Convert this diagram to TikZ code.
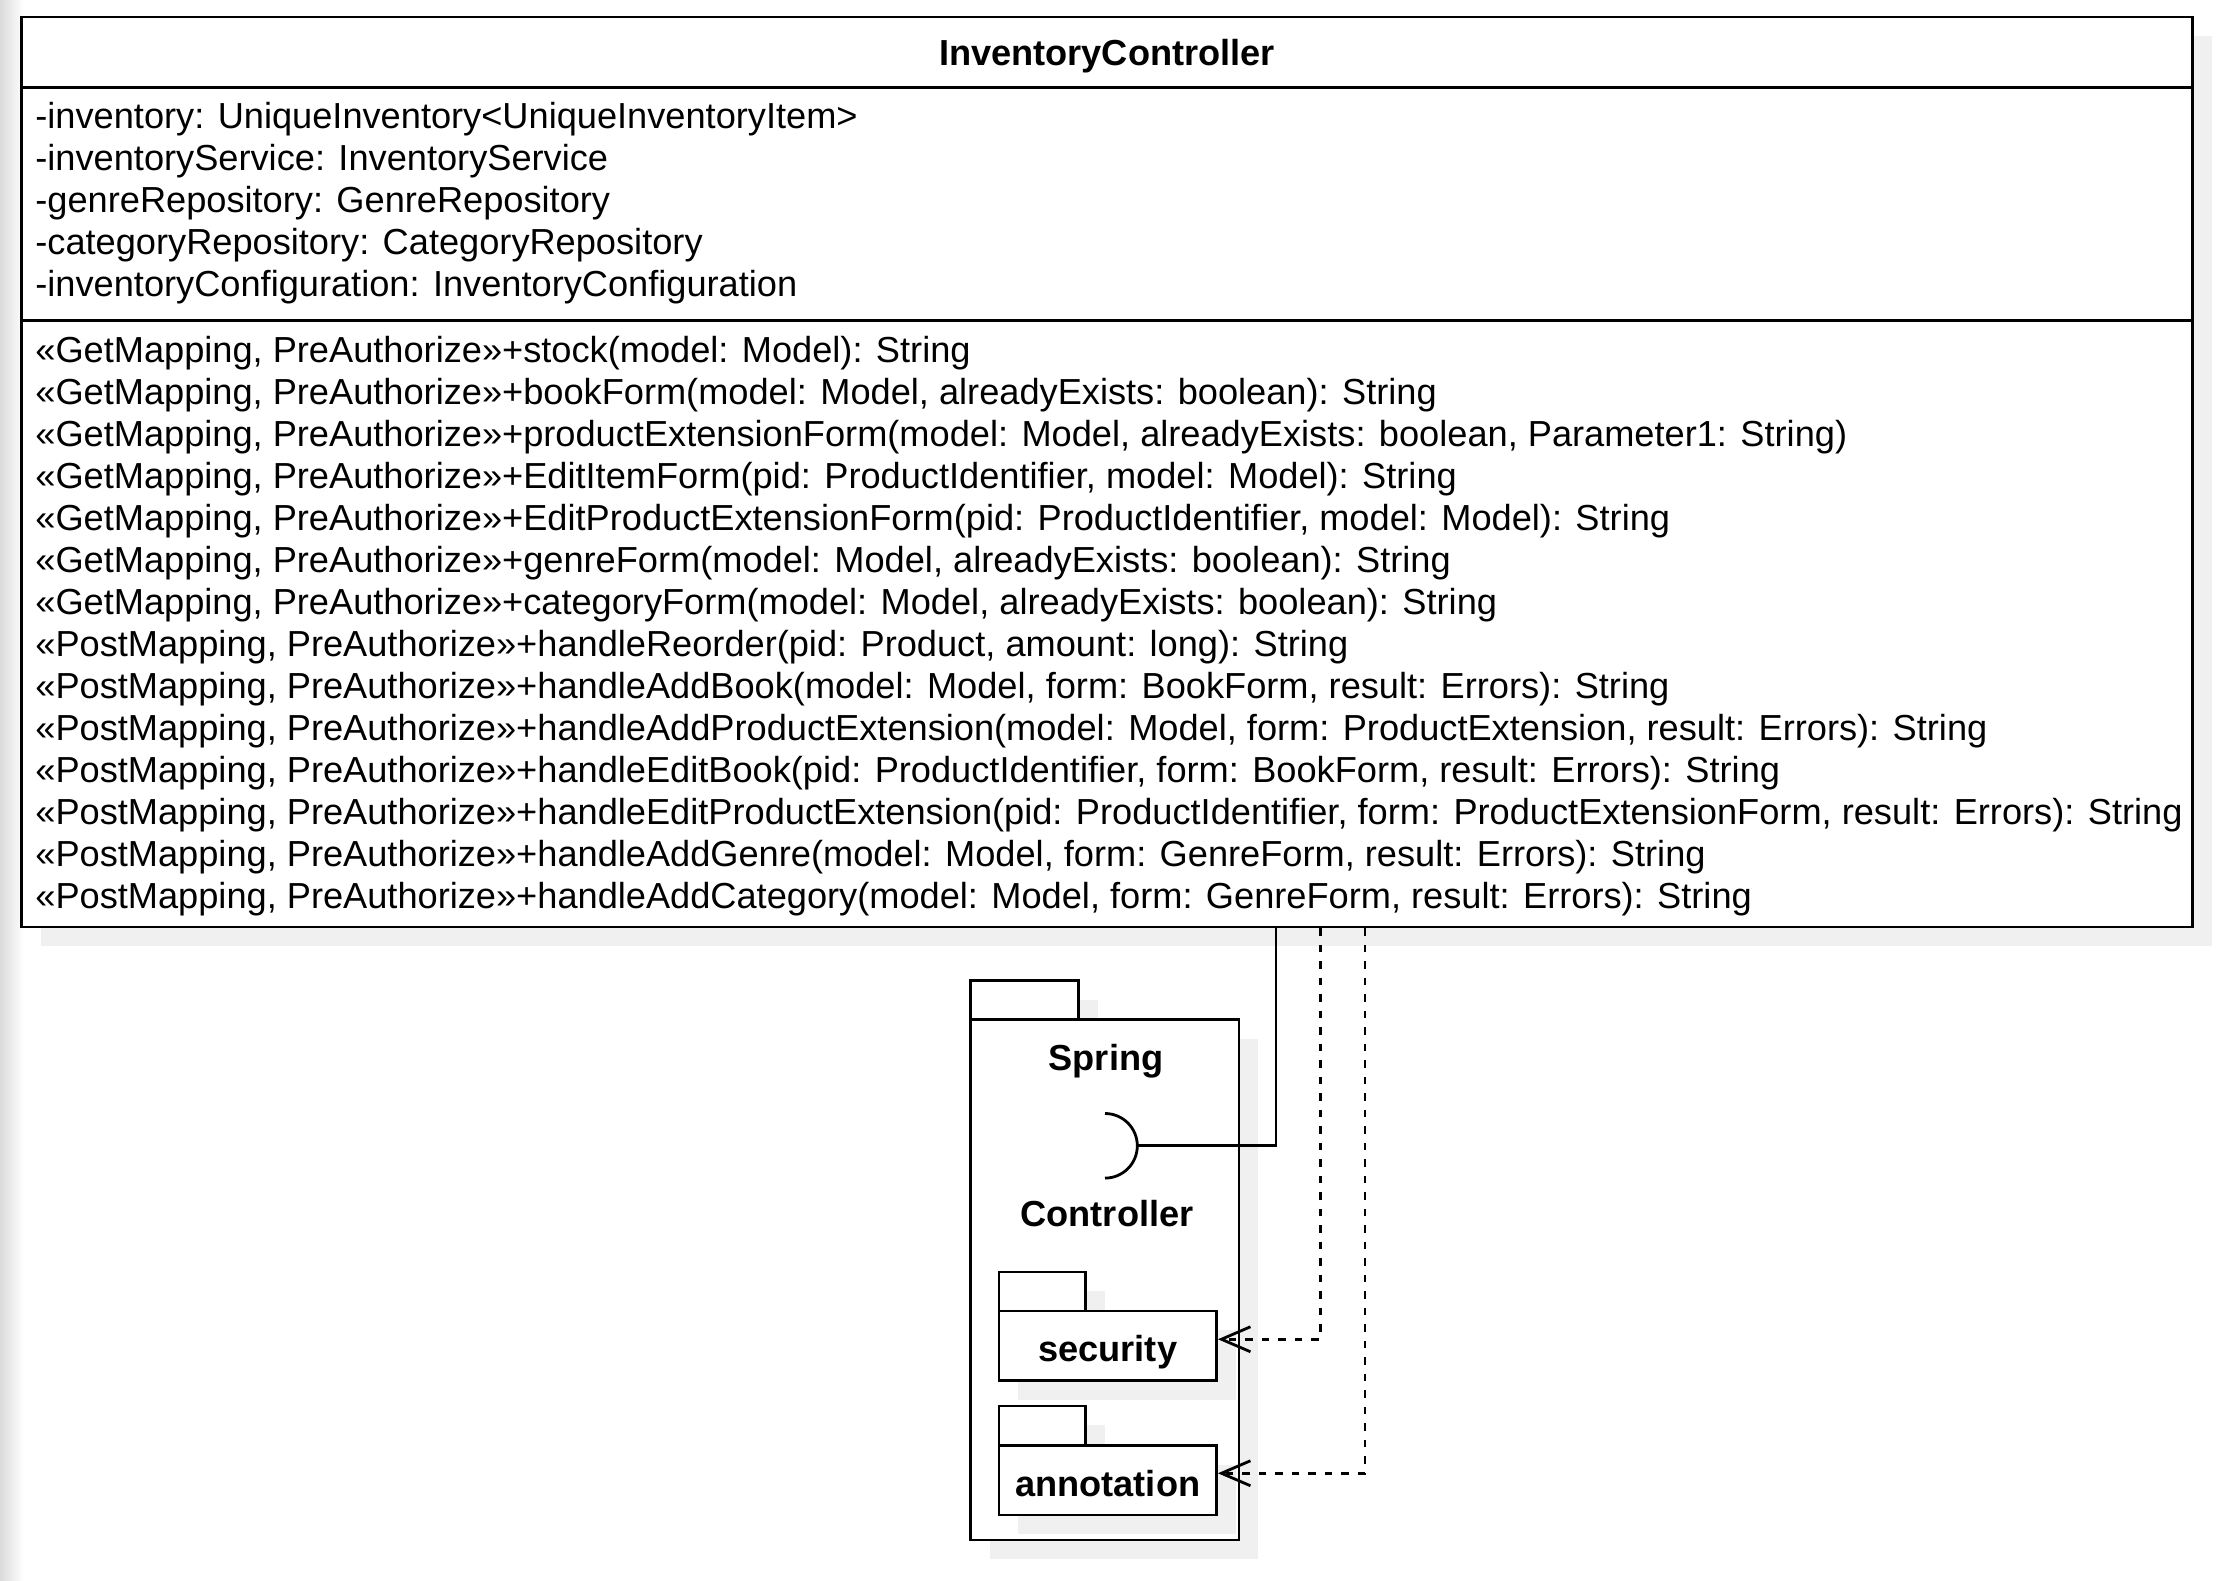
\documentclass[tikz,border=0pt]{standalone}
\usepackage{fontspec}
\setmainfont{Liberation Sans}
\usetikzlibrary{arrows.meta}
\definecolor{shadowgray}{RGB}{240,240,240}
\begin{document}
\begin{tikzpicture}[x=1pt,y=-1pt,line width=2.8pt,
  txt/.style={anchor=base west,inner sep=0pt,font=\fontsize{36.2}{42}\selectfont},
  btxt/.style={anchor=base,inner sep=0pt,font=\fontsize{36.2}{42}\selectfont\bfseries},
  shadowfill/.style={fill=shadowgray,draw=none},
  pkgbody/.style={draw,fill=white,inner sep=0pt},
  dep/.style={dash pattern=on 7.5pt off 9pt,-{Straight Barb[length=29pt,width=25pt,line width=2.8pt]}}
]
\useasboundingbox (0,0) rectangle (2228,1580);
\fill[white] (0,0) rectangle (2228,1580);
\shade[left color=black!14,right color=white,draw=none] (0,0) rectangle (24,1580);

% class shadow and box
\fill[shadowfill] (40.5,36) rectangle (2211.5,946);
\node[draw,fill=white,minimum width=2171pt,minimum height=910pt,inner sep=0pt] (cls) at (1107,472) {};
\draw (21.5,87.5) -- (2192.5,87.5);
\draw (21.5,320.5) -- (2192.5,320.5);

\node[btxt] (title) at (1107,65) {InventoryController};

\node[txt] (a1) at (34,128) {-inventory: UniqueInventory<UniqueInventoryItem>};
\node[txt] (a2) at (34,170.2) {-inventoryService: InventoryService};
\node[txt] (a3) at (34,212.4) {-genreRepository: GenreRepository};
\node[txt] (a4) at (34,254.6) {-categoryRepository: CategoryRepository};
\node[txt] (a5) at (34,296.8) {-inventoryConfiguration: InventoryConfiguration};

\node[txt] (m1) at (34,362.6) {«GetMapping, PreAuthorize»+stock(model: Model): String};
\node[txt] (m2) at (34,404.6) {«GetMapping, PreAuthorize»+bookForm(model: Model, alreadyExists: boolean): String};
\node[txt] (m3) at (34,446.6) {«GetMapping, PreAuthorize»+productExtensionForm(model: Model, alreadyExists: boolean, Parameter1: String)};
\node[txt] (m4) at (34,488.6) {«GetMapping, PreAuthorize»+EditItemForm(pid: ProductIdentifier, model: Model): String};
\node[txt] (m5) at (34,530.6) {«GetMapping, PreAuthorize»+EditProductExtensionForm(pid: ProductIdentifier, model: Model): String};
\node[txt] (m6) at (34,572.6) {«GetMapping, PreAuthorize»+genreForm(model: Model, alreadyExists: boolean): String};
\node[txt] (m7) at (34,614.6) {«GetMapping, PreAuthorize»+categoryForm(model: Model, alreadyExists: boolean): String};
\node[txt] (m8) at (34,656.6) {«PostMapping, PreAuthorize»+handleReorder(pid: Product, amount: long): String};
\node[txt] (m9) at (34,698.6) {«PostMapping, PreAuthorize»+handleAddBook(model: Model, form: BookForm, result: Errors): String};
\node[txt] (m10) at (34,740.6) {«PostMapping, PreAuthorize»+handleAddProductExtension(model: Model, form: ProductExtension, result: Errors): String};
\node[txt] (m11) at (34,782.6) {«PostMapping, PreAuthorize»+handleEditBook(pid: ProductIdentifier, form: BookForm, result: Errors): String};
\node[txt] (m12) at (34,824.6) {«PostMapping, PreAuthorize»+handleEditProductExtension(pid: ProductIdentifier, form: ProductExtensionForm, result: Errors): String};
\node[txt] (m13) at (34,866.6) {«PostMapping, PreAuthorize»+handleAddGenre(model: Model, form: GenreForm, result: Errors): String};
\node[txt] (m14) at (34,908.6) {«PostMapping, PreAuthorize»+handleAddCategory(model: Model, form: GenreForm, result: Errors): String};

% Spring package
\fill[shadowfill] (989.5,999.5) rectangle (1097.5,1039);
\fill[shadowfill] (989.5,1039) rectangle (1258,1559);
\draw[fill=white] (970.5,980.5) rectangle (1078.5,1019.5);
\node[pkgbody,minimum width=268.5pt,minimum height=520.5pt] (spring) at (1104.75,1279.75) {};
\node[btxt] (springlbl) at (1106,1070) {Spring};
\node[btxt] (ctrllbl) at (1107,1226.5) {Controller};

% socket (required interface)
\draw (1105,1113.5) arc[start angle=90,end angle=-90,radius=32.3pt];
\coordinate (sock) at (1137.5,1145.5);

% security package
\fill[shadowfill] (1018,1291) rectangle (1104.5,1330);
\fill[shadowfill] (1018,1330) rectangle (1235.5,1399.5);
\draw[fill=white] (999,1272) rectangle (1085.5,1311);
\node[pkgbody,minimum width=217.5pt,minimum height=69.5pt] (sec) at (1107.75,1345.75) {};
\node[btxt] (seclbl) at (1107.75,1361.5) {security};

% annotation package
\fill[shadowfill] (1018,1425) rectangle (1104.5,1464.5);
\fill[shadowfill] (1018,1464.5) rectangle (1235.5,1534);
\draw[fill=white] (999,1406) rectangle (1085.5,1445.5);
\node[pkgbody,minimum width=217.5pt,minimum height=69.5pt] (ann) at (1107.75,1480.25) {};
\node[btxt] (annlbl) at (1107.75,1496) {annotation};

% connectors
\coordinate (s1) at (1276,0);
\coordinate (d1) at (1320.5,0);
\coordinate (d2) at (1365,0);
\draw (sock) -| (s1 |- cls.south);
\draw[dep] (d1 |- cls.south) |- ([yshift=6.5pt]sec.east);
\draw[dep] (d2 |- cls.south) |- ([yshift=7pt]ann.east);
\end{tikzpicture}
\end{document}
